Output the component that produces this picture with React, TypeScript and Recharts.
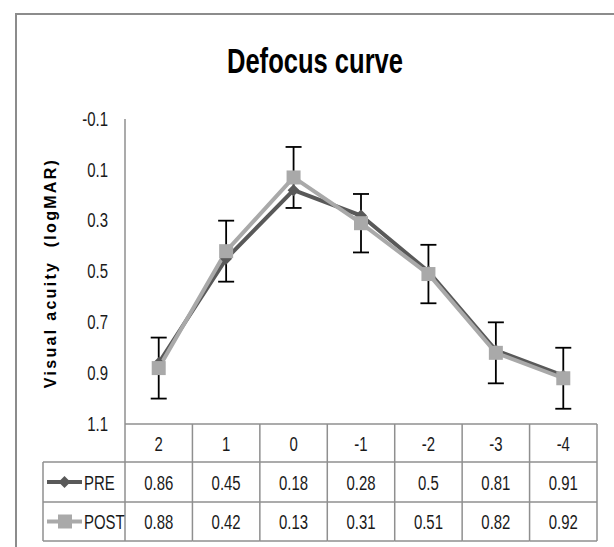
import React from 'react';
import { LineChart, Line, XAxis, YAxis, ErrorBar } from 'recharts';

const categories = ['2', '1', '0', '-1', '-2', '-3', '-4'];
const preValues = [0.86, 0.45, 0.18, 0.28, 0.5, 0.81, 0.91];
const postValues = [0.88, 0.42, 0.13, 0.31, 0.51, 0.82, 0.92];
const postErrors = [0.12, 0.12, 0.12, 0.115, 0.115, 0.12, 0.12];
const yTicks = [-0.1, 0.1, 0.3, 0.5, 0.7, 0.9, 1.1];
const seriesNames = ['PRE', 'POST'];

const data = categories.map((c, i) => ({
  cat: c,
  pre: preValues[i],
  post: postValues[i],
  postErr: postErrors[i],
}));

const W = 614;
const H = 547;
const PLOT_LEFT = 125;
const PLOT_RIGHT_MARGIN = 17;
const PLOT_TOP = 119;
const XAXIS_H = 123;
const PLOT_W = W - PLOT_LEFT - PLOT_RIGHT_MARGIN;
const COL_W = PLOT_W / categories.length;
const TABLE_TOP = H - XAXIS_H;
const ROW1 = TABLE_TOP + 38;
const ROW2 = TABLE_TOP + 78;
const ROW3 = TABLE_TOP + 117;
const LEGEND_LEFT = 43;

const PRE_COLOR = '#595959';
const POST_COLOR = '#a9a9a9';
const GRID = '#8f8f8f';
const FONT = "'Liberation Sans', Arial, sans-serif";
const TXT = '#1a1a1a';
const SX = 0.83;
const SY = 1.08;

const NText = ({ x, y, anchor = 'middle', children, size = 18 }: any) => (
  <text
    transform={`translate(${x},${y}) scale(${SX},${SY})`}
    textAnchor={anchor}
    dominantBaseline="central"
    style={{ fontFamily: FONT, fontSize: size, fill: TXT }}
  >
    {children}
  </text>
);

const Diamond = ({ cx, cy, size, fill }: any) => (
  <path d={`M${cx},${cy - size} L${cx + size},${cy} L${cx},${cy + size} L${cx - size},${cy} Z`} fill={fill} />
);

const PreDot = (props: any) => {
  const { cx, cy, index } = props;
  if (cx == null || cy == null) return <g key={`pd${index}`} />;
  return <Diamond key={`pd${index}`} cx={cx} cy={cy} size={6} fill={PRE_COLOR} />;
};

const PostDot = (props: any) => {
  const { cx, cy, index } = props;
  if (cx == null || cy == null) return <g key={`qd${index}`} />;
  return <rect key={`qd${index}`} x={cx - 7} y={cy - 7} width={14} height={14} fill={POST_COLOR} />;
};

const YTick = (props: any) => {
  const { x, y, payload } = props;
  return <NText x={x} y={y} anchor="end">{String(payload.value)}</NText>;
};

const TableTick = (props: any) => {
  const { x, index, payload } = props;
  const l = x - COL_W / 2;
  const r = x + COL_W / 2;
  const m1 = (TABLE_TOP + ROW1) / 2 + 1;
  const m2 = (ROW1 + ROW2) / 2 + 1;
  const m3 = (ROW2 + ROW3) / 2 + 1;
  return (
    <g>
      <line x1={r} y1={TABLE_TOP} x2={r} y2={ROW3} stroke={GRID} strokeWidth={1.5} />
      {index === 0 && <line x1={l} y1={TABLE_TOP} x2={l} y2={ROW3} stroke={GRID} strokeWidth={1.5} />}
      <line x1={l} y1={ROW1} x2={r} y2={ROW1} stroke={GRID} strokeWidth={1.5} />
      <line x1={l} y1={ROW2} x2={r} y2={ROW2} stroke={GRID} strokeWidth={1.5} />
      <line x1={l} y1={ROW3} x2={r} y2={ROW3} stroke={GRID} strokeWidth={1.5} />
      <NText x={x} y={m1}>{payload.value}</NText>
      <NText x={x} y={m2}>{String(preValues[index])}</NText>
      <NText x={x} y={m3}>{String(postValues[index])}</NText>
      {index === 0 && (
        <g>
          <line x1={LEGEND_LEFT} y1={ROW1} x2={l} y2={ROW1} stroke={GRID} strokeWidth={1.5} />
          <line x1={LEGEND_LEFT} y1={ROW2} x2={l} y2={ROW2} stroke={GRID} strokeWidth={1.5} />
          <line x1={LEGEND_LEFT} y1={ROW3} x2={l} y2={ROW3} stroke={GRID} strokeWidth={1.5} />
          <line x1={LEGEND_LEFT} y1={ROW1} x2={LEGEND_LEFT} y2={ROW3} stroke={GRID} strokeWidth={1.5} />
          <line x1={47} y1={m2 - 1} x2={82} y2={m2 - 1} stroke={PRE_COLOR} strokeWidth={4} />
          <Diamond cx={64.5} cy={m2 - 1} size={6} fill={PRE_COLOR} />
          <line x1={47} y1={m3 - 1} x2={82} y2={m3 - 1} stroke={POST_COLOR} strokeWidth={4} />
          <rect x={58} y={m3 - 8} width={14} height={14} fill={POST_COLOR} />
          <NText x={84} y={m2} anchor="start">{seriesNames[0]}</NText>
          <NText x={84} y={m3} anchor="start">{seriesNames[1]}</NText>
        </g>
      )}
    </g>
  );
};

export default function App() {
  return (
    <div style={{ position: 'absolute', left: 0, top: 0, width: W, height: H, background: '#fff', overflow: 'hidden' }}>
      <svg width={W} height={H} style={{ position: 'absolute', left: 0, top: 0 }}>
        <rect x={16} y={14} width={W + 20} height={H + 20} fill="#fff" stroke="#8c8c8c" strokeWidth={2} />
        <text
          transform="translate(315,73) scale(0.852,1.16)"
          textAnchor="middle"
          style={{ fontFamily: FONT, fontSize: 30, fontWeight: 'bold', fill: '#000' }}
        >
          Defocus curve
        </text>
        <text
          transform="translate(50,273) rotate(-90)"
          textAnchor="middle"
          dominantBaseline="central"
          style={{ fontFamily: FONT, fontSize: 16, fontWeight: 'bold', fill: '#000', letterSpacing: 2.3, whiteSpace: 'pre' }}
        >
          Visual acuity  (logMAR)
        </text>
      </svg>
      <div style={{ position: 'absolute', left: 0, top: 0 }}>
        <LineChart width={W} height={H} data={data} margin={{ top: PLOT_TOP, right: PLOT_RIGHT_MARGIN, bottom: 0, left: 0 }}>
          <XAxis
            dataKey="cat"
            scale="point"
            padding={{ left: COL_W / 2, right: COL_W / 2 }}
            height={XAXIS_H}
            interval={0}
            tickLine={false}
            axisLine={{ stroke: GRID, strokeWidth: 1.5 }}
            tick={<TableTick />}
          />
          <YAxis
            width={PLOT_LEFT}
            reversed
            domain={[-0.1, 1.1]}
            ticks={yTicks}
            interval={0}
            tickLine={false}
            tickSize={0}
            tickMargin={17}
            axisLine={{ stroke: GRID, strokeWidth: 1.5 }}
            tick={<YTick />}
          />
          <Line
            dataKey="pre"
            stroke={PRE_COLOR}
            strokeWidth={4}
            dot={<PreDot />}
            activeDot={false}
            isAnimationActive={false}
          />
          <Line
            dataKey="post"
            stroke={POST_COLOR}
            strokeWidth={4}
            dot={<PostDot />}
            activeDot={false}
            isAnimationActive={false}
          >
            <ErrorBar dataKey="postErr" width={8} stroke="#000" strokeWidth={1.8} direction="y" />
          </Line>
        </LineChart>
      </div>
    </div>
  );
}
